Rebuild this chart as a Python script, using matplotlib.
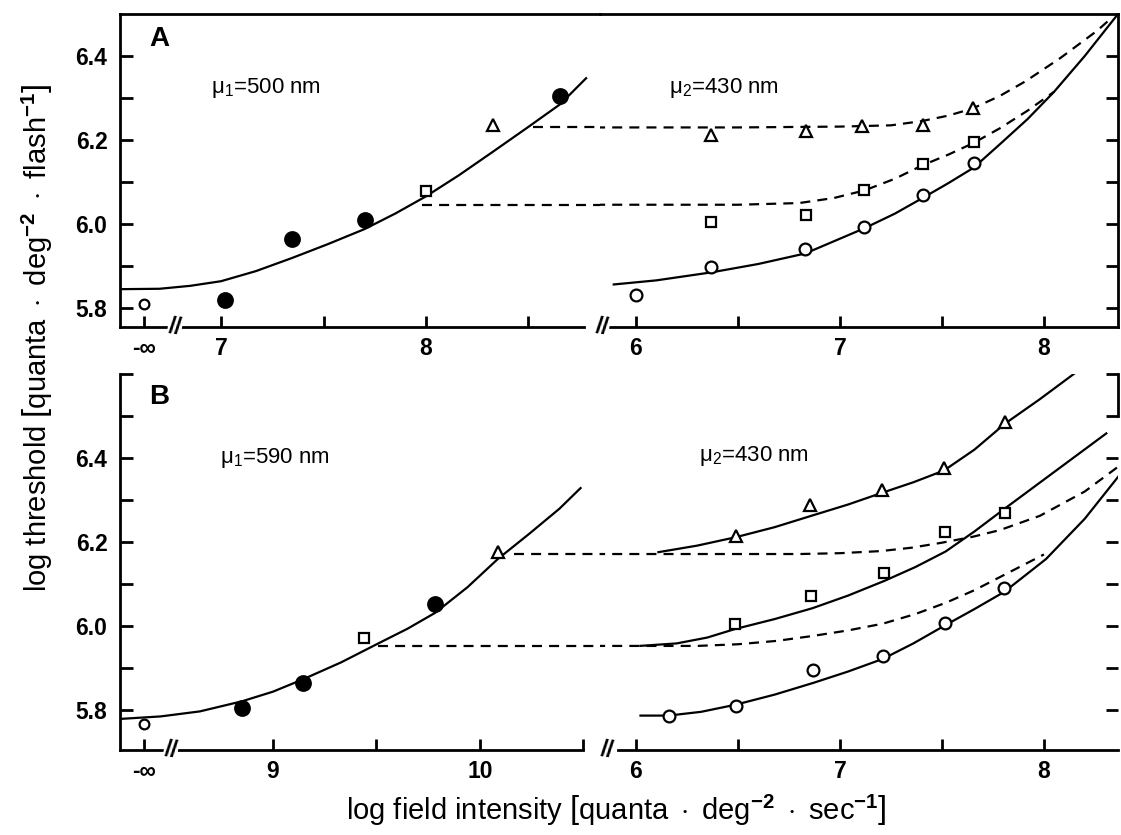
import numpy as np
import matplotlib
matplotlib.use('Agg')
import matplotlib.pyplot as plt
import matplotlib.transforms as mtransforms

plt.rcParams['font.family'] = ['Liberation Sans', 'DejaVu Sans']
plt.rcParams['mathtext.fontset'] = 'custom'
plt.rcParams['mathtext.rm'] = 'Liberation Sans'
plt.rcParams['mathtext.it'] = 'Liberation Sans:italic'
plt.rcParams['mathtext.bf'] = 'Liberation Sans:bold'

NEG_INF = -np.inf

# ---------------- Panel A ----------------
A_mu1_label = 'μ$_1$=500 nm'
A_mu2_label = 'μ$_2$=430 nm'
# left part (mu1 = 500 nm field)
A_L_dark_x = [NEG_INF]
A_L_dark_y = [5.81]
A_L_filled_x = [7.02, 7.345, 7.70, 8.654]
A_L_filled_y = [5.82, 5.965, 6.01, 6.305]
A_L_square_x = [8.00]
A_L_square_y = [6.078]
A_L_tri_x = [8.326]
A_L_tri_y = [6.235]
A_L_curve_x = [6.50, 6.70, 6.85, 7.00, 7.17, 7.345, 7.52, 7.70, 7.85, 8.00, 8.16, 8.326, 8.49, 8.654, 8.785]
A_L_curve_y = [5.845, 5.846, 5.853, 5.864, 5.888, 5.919, 5.952, 5.988, 6.025, 6.066, 6.116, 6.172, 6.228, 6.285, 6.349]
A_L_dash_tri_x = [8.52, 8.90]
A_L_dash_tri_y = [6.23, 6.23]
A_L_dash_sq_x = [7.98, 8.90]
A_L_dash_sq_y = [6.046, 6.046]
# right part (mu2 = 430 nm field)
A_R_circ_x = [6.0, 6.368, 6.828, 7.12, 7.405, 7.655]
A_R_circ_y = [5.832, 5.898, 5.94, 5.994, 6.07, 6.146]
A_R_sq_x = [6.368, 6.832, 7.12, 7.405, 7.655]
A_R_sq_y = [6.005, 6.022, 6.08, 6.143, 6.196]
A_R_tri_x = [6.368, 6.832, 7.11, 7.405, 7.65]
A_R_tri_y = [6.212, 6.221, 6.233, 6.235, 6.277]
A_R_solid_x = [5.886, 6.10, 6.37, 6.60, 6.83, 7.12, 7.27, 7.405, 7.53, 7.655, 7.784, 7.92, 8.05, 8.20, 8.363]
A_R_solid_y = [5.856, 5.866, 5.885, 5.905, 5.93, 5.99, 6.025, 6.062, 6.097, 6.134, 6.19, 6.25, 6.315, 6.40, 6.50]
A_R_dash_tri_x = [5.80, 6.5, 7.0, 7.25, 7.4, 7.53, 7.65, 7.784, 7.91, 8.08, 8.26, 8.33]
A_R_dash_tri_y = [6.23, 6.23, 6.232, 6.235, 6.245, 6.258, 6.275, 6.305, 6.34, 6.395, 6.46, 6.49]
A_R_dash_sq_x = [5.80, 6.5, 6.8, 6.97, 7.12, 7.27, 7.405, 7.53, 7.655, 7.784, 7.92, 8.05]
A_R_dash_sq_y = [6.046, 6.046, 6.05, 6.062, 6.08, 6.108, 6.14, 6.165, 6.193, 6.228, 6.27, 6.315]

# ---------------- Panel B ----------------
B_mu1_label = 'μ$_1$=590 nm'
B_mu2_label = 'μ$_2$=430 nm'
B_L_dark_x = [NEG_INF]
B_L_dark_y = [5.766]
B_L_filled_x = [8.85, 9.143, 9.784]
B_L_filled_y = [5.804, 5.864, 6.052]
B_L_square_x = [9.438]
B_L_square_y = [5.97]
B_L_tri_x = [10.087]
B_L_tri_y = [6.177]
B_L_curve_x = [8.26, 8.457, 8.647, 8.85, 9.0, 9.143, 9.33, 9.509, 9.65, 9.784, 9.94, 10.086, 10.24, 10.384, 10.49]
B_L_curve_y = [5.778, 5.784, 5.796, 5.82, 5.843, 5.872, 5.913, 5.958, 5.993, 6.031, 6.092, 6.159, 6.22, 6.279, 6.33]
B_L_dash_tri_x = [10.164, 10.70]
B_L_dash_tri_y = [6.171, 6.171]
B_L_dash_sq_x = [9.509, 10.70]
B_L_dash_sq_y = [5.952, 5.952]

B_R_circ_x = [6.16, 6.489, 6.87, 7.21, 7.515, 7.806]
B_R_circ_y = [5.784, 5.808, 5.894, 5.928, 6.007, 6.089]
B_R_sq_x = [6.484, 6.86, 7.218, 7.515, 7.81]
B_R_sq_y = [6.004, 6.071, 6.125, 6.223, 6.269]
B_R_tri_x = [6.489, 6.855, 7.207, 7.51, 7.81]
B_R_tri_y = [6.215, 6.288, 6.323, 6.375, 6.485]
B_R_tri_solid_x = [6.105, 6.3, 6.489, 6.68, 6.866, 7.04, 7.207, 7.36, 7.51, 7.66, 7.81, 7.98, 8.16]
B_R_tri_solid_y = [6.175, 6.191, 6.211, 6.235, 6.263, 6.289, 6.317, 6.342, 6.37, 6.42, 6.482, 6.54, 6.605]
B_R_sq_solid_x = [6.017, 6.2, 6.35, 6.484, 6.68, 6.866, 7.04, 7.218, 7.37, 7.518, 7.66, 7.81, 8.06, 8.31]
B_R_sq_solid_y = [5.952, 5.958, 5.972, 5.992, 6.016, 6.042, 6.072, 6.107, 6.14, 6.177, 6.225, 6.28, 6.37, 6.46]
B_R_circ_solid_x = [6.017, 6.16, 6.32, 6.489, 6.68, 6.87, 7.04, 7.21, 7.36, 7.515, 7.66, 7.806, 8.01, 8.20, 8.38]
B_R_circ_solid_y = [5.786, 5.786, 5.795, 5.812, 5.836, 5.864, 5.891, 5.921, 5.958, 6.001, 6.04, 6.081, 6.159, 6.255, 6.365]
B_R_dash_up_x = [5.80, 6.8, 7.0, 7.2, 7.35, 7.5, 7.65, 7.784, 7.98, 8.2, 8.38]
B_R_dash_up_y = [6.171, 6.171, 6.173, 6.178, 6.186, 6.198, 6.212, 6.228, 6.262, 6.32, 6.385]
B_R_dash_lo_x = [5.80, 6.3, 6.5, 6.69, 6.87, 7.04, 7.21, 7.37, 7.52, 7.66, 7.8, 8.0]
B_R_dash_lo_y = [5.952, 5.952, 5.956, 5.964, 5.976, 5.989, 6.005, 6.028, 6.055, 6.085, 6.12, 6.17]

# tick labels
Y_MAJOR = [5.8, 6.0, 6.2, 6.4]
Y_MAJOR_LABELS = ['5.8', '6.0', '6.2', '6.4']
A_Y_MINOR = [5.9, 6.1, 6.3]
B_Y_MINOR = [5.9, 6.1, 6.3, 6.5, 6.6]
A_L_XTICKS = ['-∞', 7, 7.5, 8, 8.5]
A_L_XLABELS = ['-∞', '7', '', '8', '']
B_L_XTICKS = ['-∞', 9, 9.5, 10, 10.5]
B_L_XLABELS = ['-∞', '9', '', '10', '']
R_XTICKS = [6, 6.5, 7, 7.5, 8]
R_XLABELS = ['6', '', '7', '', '8']

X_LABEL = r'log field intensity $\left[\mathrm{quanta}\ \cdot\ \mathrm{deg}^{\mathbf{-2}}\ \cdot\ \mathrm{sec}^{\mathbf{-1}}\right]$'
Y_LABEL = r'log threshold $\left[\mathrm{quanta}\ \cdot\ \mathrm{deg}^{\mathbf{-2}}\ \cdot\ \mathrm{flash}^{\mathbf{-1}}\right]$'

# ---------------- layout ----------------
W, H = 1121, 835
fig = plt.figure(figsize=(W / 100, H / 100), dpi=100)

XL0, XBRK, XR1 = 120 / W, 600 / W, 1118 / W
A_bot, A_h = 1 - 327 / H, 313 / H
B_bot, B_h = 1 - 750 / H, 376 / H

axA_L = fig.add_axes([XL0, A_bot, XBRK - XL0, A_h])
axA_R = fig.add_axes([XBRK, A_bot, XR1 - XBRK, A_h])
axB_L = fig.add_axes([XL0, B_bot, XBRK - XL0, B_h])
axB_R = fig.add_axes([XBRK, B_bot, XR1 - XBRK, B_h])

A_YLIM = (5.755, 6.50)
B_YLIM = (5.704, 6.60)
A_L_XLIM, A_L_NEGINF = (6.507, 8.849), 6.624
B_L_XLIM, B_L_NEGINF = (8.261, 10.58), 8.377
R_XLIM = (5.824, 8.363)

LW_SP = 2.0
LW_C = 1.6
DASH = (4.5, 3.2)
TICK_FS = 16.5
MS_F, MS_O, MS_S, MS_T = 10.5, 8.5, 7.5, 8.5
MEW = 1.6


def xs(vals, neginf):
    return [neginf if (isinstance(v, float) and np.isinf(v)) or v == '-∞' else v for v in vals]


def style(ax, ylim, xlim, side, yminor, top=True, right_bounds=None):
    ax.set_ylim(*ylim)
    ax.set_xlim(*xlim)
    ax.patch.set_alpha(0)
    for s in ax.spines.values():
        s.set_linewidth(LW_SP)
    ax.spines['top'].set_visible(top)
    if side == 'left':
        ax.spines['right'].set_visible(False)
        ax.yaxis.set_ticks_position('left')
        ax.set_yticks(Y_MAJOR, Y_MAJOR_LABELS)
        ax.set_yticks(yminor, minor=True)
    else:
        ax.spines['left'].set_visible(False)
        ax.yaxis.set_ticks_position('right')
        ax.set_yticks(Y_MAJOR, [''] * len(Y_MAJOR))
        ax.set_yticks(yminor, minor=True)
        if right_bounds is not None:
            ax.spines['right'].set_bounds(*right_bounds)
    ax.tick_params(axis='both', which='both', direction='in', width=LW_SP, length=8)
    ax.tick_params(axis='y', which='both', length=9, pad=9)
    ax.tick_params(axis='x', which='both', bottom=True, top=False, pad=7)
    ax.tick_params(labelsize=TICK_FS)
    for lab in ax.get_xticklabels() + ax.get_yticklabels():
        lab.set_fontweight('bold')


def draw_points(ax, x, y, kind, neginf=None, ms=None):
    if neginf is not None:
        x = xs(x, neginf)
    spec = {'filled': ('o', MS_F, 'black'), 'circle': ('o', MS_O, 'white'),
            'square': ('s', MS_S, 'white'), 'tri': ('^', MS_T, 'white')}[kind]
    ax.plot(x, y, spec[0], ms=ms or spec[1], mfc=spec[2], mec='black', mew=MEW,
            zorder=4, clip_on=False)


def solid(ax, x, y):
    ax.plot(x, y, '-', color='black', lw=LW_C, zorder=3, solid_capstyle='butt',
            solid_joinstyle='round')


def dashed(ax, x, y):
    ax.plot(x, y, '--', color='black', lw=LW_C, dashes=DASH, zorder=3)


def breakmark(ax, xd):
    tr = mtransforms.blended_transform_factory(ax.transData, ax.transAxes)
    ax.text(xd, 0, '//', transform=tr, ha='center', va='center', fontsize=17,
            fontweight='bold', rotation=-8, clip_on=False, zorder=6,
            bbox=dict(fc='white', ec='none', pad=0.3))


def bold_xlabels(ax):
    for lab in ax.get_xticklabels():
        lab.set_fontweight('bold')


# ---------- Panel A left ----------
style(axA_L, A_YLIM, A_L_XLIM, 'left', A_Y_MINOR)
axA_L.set_xticks(xs(A_L_XTICKS, A_L_NEGINF), A_L_XLABELS)
axA_L.spines['bottom'].set_bounds(A_L_XLIM[0], 8.77)
bold_xlabels(axA_L)
solid(axA_L, A_L_curve_x, A_L_curve_y)
dashed(axA_L, A_L_dash_tri_x, A_L_dash_tri_y)
dashed(axA_L, A_L_dash_sq_x, A_L_dash_sq_y)
draw_points(axA_L, A_L_dark_x, A_L_dark_y, 'circle', A_L_NEGINF, ms=7)
draw_points(axA_L, A_L_filled_x, A_L_filled_y, 'filled')
draw_points(axA_L, A_L_square_x, A_L_square_y, 'square')
draw_points(axA_L, A_L_tri_x, A_L_tri_y, 'tri')
breakmark(axA_L, 6.775)
axA_L.text(6.70, 6.44, 'A', fontsize=20, fontweight='bold', ha='center', va='center')
axA_L.text(6.95, 6.323, A_mu1_label, fontsize=16, ha='left', va='center')

# ---------- Panel A right ----------
style(axA_R, A_YLIM, R_XLIM, 'right', A_Y_MINOR)
axA_R.set_xticks(R_XTICKS, R_XLABELS)
axA_R.spines['bottom'].set_bounds(5.87, R_XLIM[1])
bold_xlabels(axA_R)
solid(axA_R, A_R_solid_x, A_R_solid_y)
dashed(axA_R, A_R_dash_tri_x, A_R_dash_tri_y)
dashed(axA_R, A_R_dash_sq_x, A_R_dash_sq_y)
draw_points(axA_R, A_R_circ_x, A_R_circ_y, 'circle')
draw_points(axA_R, A_R_sq_x, A_R_sq_y, 'square')
draw_points(axA_R, A_R_tri_x, A_R_tri_y, 'tri')
breakmark(axA_R, 5.835)
axA_R.text(6.16, 6.323, A_mu2_label, fontsize=16, ha='left', va='center')

# ---------- Panel B left ----------
style(axB_L, B_YLIM, B_L_XLIM, 'left', B_Y_MINOR, top=False)
axB_L.set_xticks(xs(B_L_XTICKS, B_L_NEGINF), B_L_XLABELS)
axB_L.spines['bottom'].set_bounds(B_L_XLIM[0], 10.5)
bold_xlabels(axB_L)
solid(axB_L, B_L_curve_x, B_L_curve_y)
dashed(axB_L, B_L_dash_tri_x, B_L_dash_tri_y)
dashed(axB_L, B_L_dash_sq_x, B_L_dash_sq_y)
draw_points(axB_L, B_L_dark_x, B_L_dark_y, 'circle', B_L_NEGINF, ms=7)
draw_points(axB_L, B_L_filled_x, B_L_filled_y, 'filled')
draw_points(axB_L, B_L_square_x, B_L_square_y, 'square')
draw_points(axB_L, B_L_tri_x, B_L_tri_y, 'tri')
breakmark(axB_L, 8.507)
axB_L.text(8.45, 6.545, 'B', fontsize=20, fontweight='bold', ha='center', va='center')
axB_L.text(8.744, 6.40, B_mu1_label, fontsize=16, ha='left', va='center')

# ---------- Panel B right ----------
style(axB_R, B_YLIM, R_XLIM, 'right', B_Y_MINOR, top=False, right_bounds=(6.5, 6.6))
axB_R.set_xticks(R_XTICKS, R_XLABELS)
axB_R.spines['bottom'].set_bounds(5.91, R_XLIM[1])
bold_xlabels(axB_R)
solid(axB_R, B_R_tri_solid_x, B_R_tri_solid_y)
solid(axB_R, B_R_sq_solid_x, B_R_sq_solid_y)
solid(axB_R, B_R_circ_solid_x, B_R_circ_solid_y)
dashed(axB_R, B_R_dash_up_x, B_R_dash_up_y)
dashed(axB_R, B_R_dash_lo_x, B_R_dash_lo_y)
draw_points(axB_R, B_R_circ_x, B_R_circ_y, 'circle')
draw_points(axB_R, B_R_sq_x, B_R_sq_y, 'square')
draw_points(axB_R, B_R_tri_x, B_R_tri_y, 'tri')
breakmark(axB_R, 5.86)
axB_R.text(6.31, 6.405, B_mu2_label, fontsize=16, ha='left', va='center')

# ---------- axis titles ----------
fig.text(616 / W, 1 - 810 / H, X_LABEL, fontsize=21, ha='center', va='center')
fig.text(37 / W, 1 - 338 / H, Y_LABEL, fontsize=21, ha='center', va='center', rotation=90)

fig.savefig('out.png', dpi=100)
